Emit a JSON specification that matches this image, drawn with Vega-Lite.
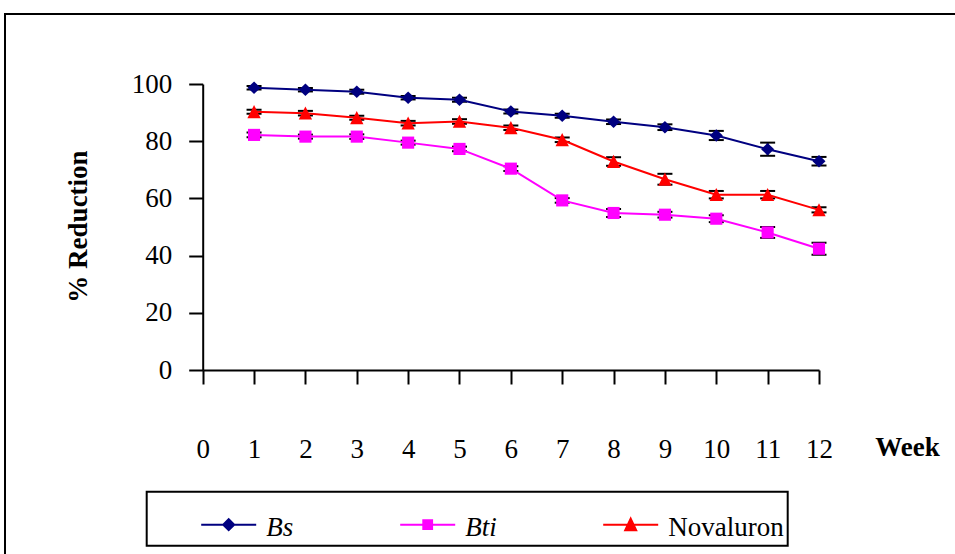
{
  "$schema": "https://vega.github.io/schema/vega-lite/v6.json",
  "width": 950,
  "height": 540,
  "padding": {"left": 5, "top": 14, "right": 0, "bottom": 0},
  "autosize": {"type": "none"},
  "background": "white",
  "config": {
    "view": {"stroke": "black", "strokeWidth": 2, "strokeDash": [950, 1490, 540]},
    "font": "Liberation Serif",
    "axis": {"grid": false}
  },
  "data": {
    "values": [
      {"series": "Bs", "week": 1, "value": 98.7, "err": 0.6},
      {"series": "Bs", "week": 2, "value": 98.0, "err": 0.6},
      {"series": "Bs", "week": 3, "value": 97.3, "err": 0.7},
      {"series": "Bs", "week": 4, "value": 95.2, "err": 0.6},
      {"series": "Bs", "week": 5, "value": 94.5, "err": 0.7},
      {"series": "Bs", "week": 6, "value": 90.4, "err": 0.7},
      {"series": "Bs", "week": 7, "value": 88.9, "err": 0.7},
      {"series": "Bs", "week": 8, "value": 86.8, "err": 0.8},
      {"series": "Bs", "week": 9, "value": 84.9, "err": 1.0},
      {"series": "Bs", "week": 10, "value": 82.0, "err": 1.6},
      {"series": "Bs", "week": 11, "value": 77.2, "err": 2.3},
      {"series": "Bs", "week": 12, "value": 73.0, "err": 1.5},
      {"series": "Bti", "week": 1, "value": 82.2, "err": 0.8},
      {"series": "Bti", "week": 2, "value": 81.6, "err": 0.7},
      {"series": "Bti", "week": 3, "value": 81.6, "err": 0.8},
      {"series": "Bti", "week": 4, "value": 79.5, "err": 0.7},
      {"series": "Bti", "week": 5, "value": 77.3, "err": 0.8},
      {"series": "Bti", "week": 6, "value": 70.4, "err": 0.8},
      {"series": "Bti", "week": 7, "value": 59.3, "err": 0.8},
      {"series": "Bti", "week": 8, "value": 54.9, "err": 1.4},
      {"series": "Bti", "week": 9, "value": 54.3, "err": 1.0},
      {"series": "Bti", "week": 10, "value": 52.9, "err": 1.2},
      {"series": "Bti", "week": 11, "value": 48.1, "err": 1.9},
      {"series": "Bti", "week": 12, "value": 42.4, "err": 2.1},
      {"series": "Novaluron", "week": 1, "value": 90.3, "err": 0.7},
      {"series": "Novaluron", "week": 2, "value": 89.8, "err": 0.8},
      {"series": "Novaluron", "week": 3, "value": 88.2, "err": 0.7},
      {"series": "Novaluron", "week": 4, "value": 86.3, "err": 0.8},
      {"series": "Novaluron", "week": 5, "value": 86.9, "err": 0.8},
      {"series": "Novaluron", "week": 6, "value": 84.7, "err": 0.8},
      {"series": "Novaluron", "week": 7, "value": 80.5, "err": 0.8},
      {"series": "Novaluron", "week": 8, "value": 72.9, "err": 1.5},
      {"series": "Novaluron", "week": 9, "value": 66.7, "err": 1.9},
      {"series": "Novaluron", "week": 10, "value": 61.3, "err": 1.3},
      {"series": "Novaluron", "week": 11, "value": 61.3, "err": 1.3},
      {"series": "Novaluron", "week": 12, "value": 56.0, "err": 0.9}
    ]
  },
  "encoding": {
    "x": {
      "field": "week",
      "type": "quantitative",
      "scale": {"domain": [0, 12], "range": [197.7, 814], "nice": false, "zero": false},
      "axis": {
        "values": [0, 1, 2, 3, 4, 5, 6, 7, 8, 9, 10, 11, 12],
        "offset": -184,
        "domainColor": "black", "domainWidth": 2,
        "tickColor": "black", "tickWidth": 2, "tickSize": 14,
        "labelFont": "Liberation Serif", "labelFontSize": 27, "labelColor": "black",
        "labelPadding": 73, "labelBaseline": "alphabetic", "labelFlush": false, "labelOverlap": false,
        "title": "Week",
        "titleFont": "Liberation Serif", "titleFontSize": 27, "titleFontWeight": "bold", "titleColor": "black",
        "titleX": 902, "titleY": 85, "titleAlign": "center", "titleBaseline": "alphabetic", "titleAngle": 0
      }
    },
    "y": {
      "field": "value",
      "type": "quantitative",
      "scale": {"domain": [0, 100], "range": [356, 70], "nice": false, "zero": false},
      "axis": {
        "values": [0, 20, 40, 60, 80, 100],
        "offset": -197.7,
        "domainColor": "black", "domainWidth": 2,
        "tickColor": "black", "tickWidth": 2, "tickSize": 14,
        "labelFont": "Liberation Serif", "labelFontSize": 27, "labelColor": "black",
        "labelPadding": 17, "labelBaseline": "middle", "labelFlush": false, "labelOverlap": false,
        "title": "% Reduction",
        "titleFont": "Liberation Serif", "titleFontSize": 27, "titleFontWeight": "bold", "titleColor": "black",
        "titleX": -116, "titleY": 212, "titleAlign": "center", "titleBaseline": "alphabetic", "titleAngle": 270
      }
    }
  },
  "layer": [
    {
      "mark": {
        "type": "errorbar",
        "color": "black",
        "opacity": 1,
        "ticks": {"size": 15, "thickness": 2, "color": "black", "opacity": 1},
        "rule": {"strokeWidth": 2, "color": "black", "opacity": 1}
      },
      "encoding": {
        "yError": {"field": "err"},
        "detail": {"field": "series", "type": "nominal"}
      }
    },
    {
      "mark": {"type": "line", "strokeWidth": 2},
      "encoding": {
        "color": {
          "field": "series",
          "type": "nominal",
          "scale": {"domain": ["Bs", "Bti", "Novaluron"], "range": ["#000080", "#ff00ff", "#ff0000"]},
          "legend": {
            "orient": "none",
            "legendX": 141.7,
            "legendY": 477.7,
            "direction": "horizontal",
            "columns": 3,
            "columnPadding": 56,
            "padding": 4,
            "clipHeight": 46,
            "symbolSize": 3025,
            "symbolStrokeWidth": 2,
            "symbolOffset": 49.5,
            "labelOffset": 9,
            "labelFont": "Liberation Serif",
            "labelFontSize": 27,
            "labelColor": "black",
            "labelLimit": 400,
            "strokeColor": "black",
            "fillColor": "white",
            "title": null,
            "encode": {
              "symbols": {
                "update": {
                  "shape": {"signal": "datum.value === 'Bs' ? 'M-1,0H1M-0.2,0L0,-0.2L0.2,0L0,0.2Z' : datum.value === 'Bti' ? 'M-1,0H1M-0.16,-0.16H0.16V0.16H-0.16Z' : 'M-1,0H1M0,-0.22L0.2,0.2L-0.2,0.2ZM7.13,0'"},
                  "fill": {"signal": "datum.value === 'Bs' ? '#000080' : datum.value === 'Bti' ? '#ff00ff' : '#ff0000'"},
                  "stroke": {"signal": "datum.value === 'Bs' ? '#000080' : datum.value === 'Bti' ? '#ff00ff' : '#ff0000'"},
                  "strokeWidth": {"value": 2},
                  "size": {"value": 3025},
                  "opacity": {"value": 1},
                  "y": {"value": 29}
                }
              },
              "labels": {
                "update": {
                  "fontStyle": {"signal": "datum.value === 'Novaluron' ? 'normal' : 'italic'"},
                  "y": {"value": 32.3}
                }
              },
              "legend": {
                "update": {"strokeWidth": {"value": 2}}
              }
            }
          }
        }
      }
    },
    {
      "transform": [{"filter": "datum.series === 'Bs'"}],
      "mark": {"type": "point", "filled": true, "size": 170, "opacity": 1, "shape": "M-1,0L0,-0.96L1,0L0,0.96Z"},
      "encoding": {
        "color": {"field": "series", "type": "nominal", "scale": {"domain": ["Bs", "Bti", "Novaluron"], "range": ["#000080", "#ff00ff", "#ff0000"]}}
      }
    },
    {
      "transform": [{"filter": "datum.series === 'Bti'"}],
      "mark": {"type": "point", "filled": true, "size": 170, "opacity": 1, "shape": "M-0.93,-0.93H0.93V0.93H-0.93Z"},
      "encoding": {
        "color": {"field": "series", "type": "nominal", "scale": {"domain": ["Bs", "Bti", "Novaluron"], "range": ["#000080", "#ff00ff", "#ff0000"]}}
      }
    },
    {
      "transform": [{"filter": "datum.series === 'Novaluron'"}],
      "mark": {"type": "point", "filled": true, "size": 170, "opacity": 1, "shape": "M0,-1.02L1.02,0.98L-1.02,0.98Z"},
      "encoding": {
        "color": {"field": "series", "type": "nominal", "scale": {"domain": ["Bs", "Bti", "Novaluron"], "range": ["#000080", "#ff00ff", "#ff0000"]}}
      }
    }
  ]
}
